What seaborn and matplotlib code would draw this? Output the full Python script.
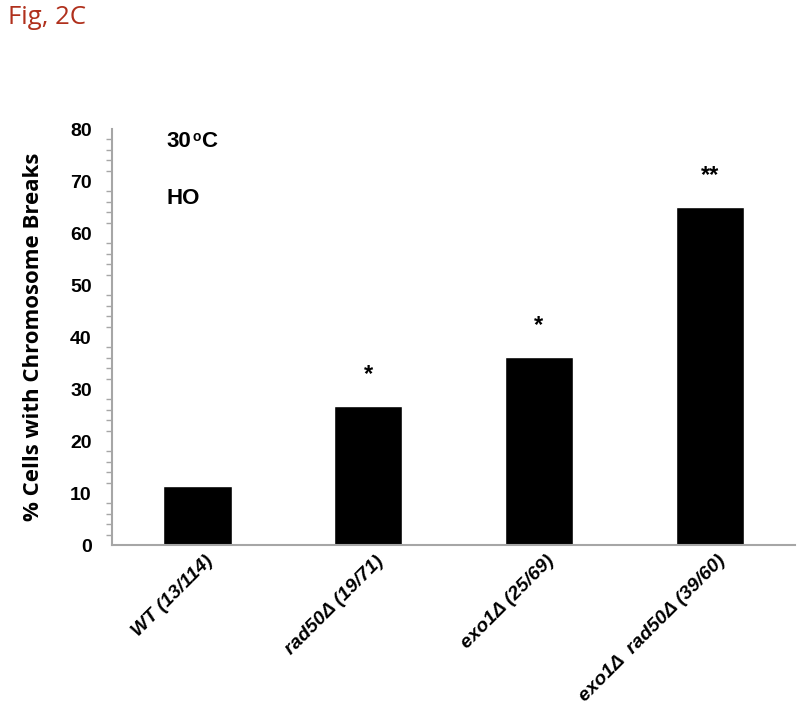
import pandas as pd
import matplotlib
matplotlib.use("Agg")
import matplotlib.pyplot as plt
import matplotlib.transforms as mtrans
import seaborn as sns
from matplotlib.ticker import MultipleLocator

# data (broken / total cells)
strains = ["WT (13/114)", "rad50\u0394 (19/71)", "exo1\u0394 (25/69)", "exo1\u0394  rad50\u0394 (39/60)"]
broken = [13, 19, 25, 39]
total = [114, 71, 69, 60]
stars = ["", "*", "*", "**"]

pct = [100 * b / t for b, t in zip(broken, total)]
df = pd.DataFrame({"strain": strains, "pct": pct})

sns.set_style("white")
plt.rcParams["font.family"] = ["Liberation Sans", "DejaVu Sans"]
plt.rcParams["text.color"] = "black"
plt.rcParams["axes.labelcolor"] = "black"

fig = plt.figure(figsize=(8, 7.13), dpi=100)
ax = fig.add_axes([0.14, 0.2356, 0.854, 0.5834])

sns.barplot(data=df, x="strain", y="pct", color="black", width=0.4,
            saturation=1, ax=ax)

ax.set_ylim(0, 80)
ax.set_xlim(-0.5, 3.5)
ax.yaxis.set_major_locator(MultipleLocator(10))
ax.yaxis.set_minor_locator(MultipleLocator(2))
grey = "#a6a6a6"
ax.tick_params(axis="y", which="major", direction="inout", length=9,
               width=1, color=grey, labelcolor="black", labelsize=14, pad=10)
ax.tick_params(axis="y", which="minor", direction="out", length=4,
               width=1, color=grey, left=True)
ax.tick_params(axis="x", length=0, pad=6, labelcolor="black")
for lab in ax.get_yticklabels():
    lab.set_fontweight("bold")
ax.set_xticks(range(len(strains)))
ax.set_xticklabels(strains, rotation=45, ha="right", rotation_mode="anchor",
                   fontsize=14, fontweight="bold", fontstyle="italic")
shift = mtrans.offset_copy(ax.get_xticklabels()[0].get_transform(), fig=fig,
                           x=7, y=1, units="dots")
for lab in ax.get_xticklabels():
    lab.set_transform(shift)

for s in ["top", "right"]:
    ax.spines[s].set_visible(False)
for s in ["left", "bottom"]:
    ax.spines[s].set_color(grey)
    ax.spines[s].set_linewidth(1.5)

ax.set_xlabel("")
ax.set_ylabel("% Cells with Chromosome Breaks", fontsize=16, fontweight="bold",
              family=["Open Sans", "DejaVu Sans"], labelpad=19)

for i, (p, st) in enumerate(zip(pct, stars)):
    if st:
        ax.text(i, p + 6, st, ha="center", va="center", fontsize=17,
                fontweight="bold")

ax.text(0.08, 0.969, "30", transform=ax.transAxes, fontsize=16,
        fontweight="bold", va="center")
ax.annotate("o", xy=(0.08, 0.969), xycoords="axes fraction",
            xytext=(18.3, 3.5), textcoords="offset points", fontsize=10,
            fontweight="bold", va="center")
ax.annotate("C", xy=(0.08, 0.969), xycoords="axes fraction",
            xytext=(24.5, 0), textcoords="offset points", fontsize=16,
            fontweight="bold", va="center")
ax.text(0.08, 0.834, "HO", transform=ax.transAxes, fontsize=16,
        fontweight="bold", va="center")

fig.text(0.01, 0.975, "Fig, 2C", fontsize=18.5, color="#b0301c",
         family=["Open Sans", "DejaVu Sans"], va="center", ha="left")

fig.savefig("out.png", dpi=100, facecolor="white")
